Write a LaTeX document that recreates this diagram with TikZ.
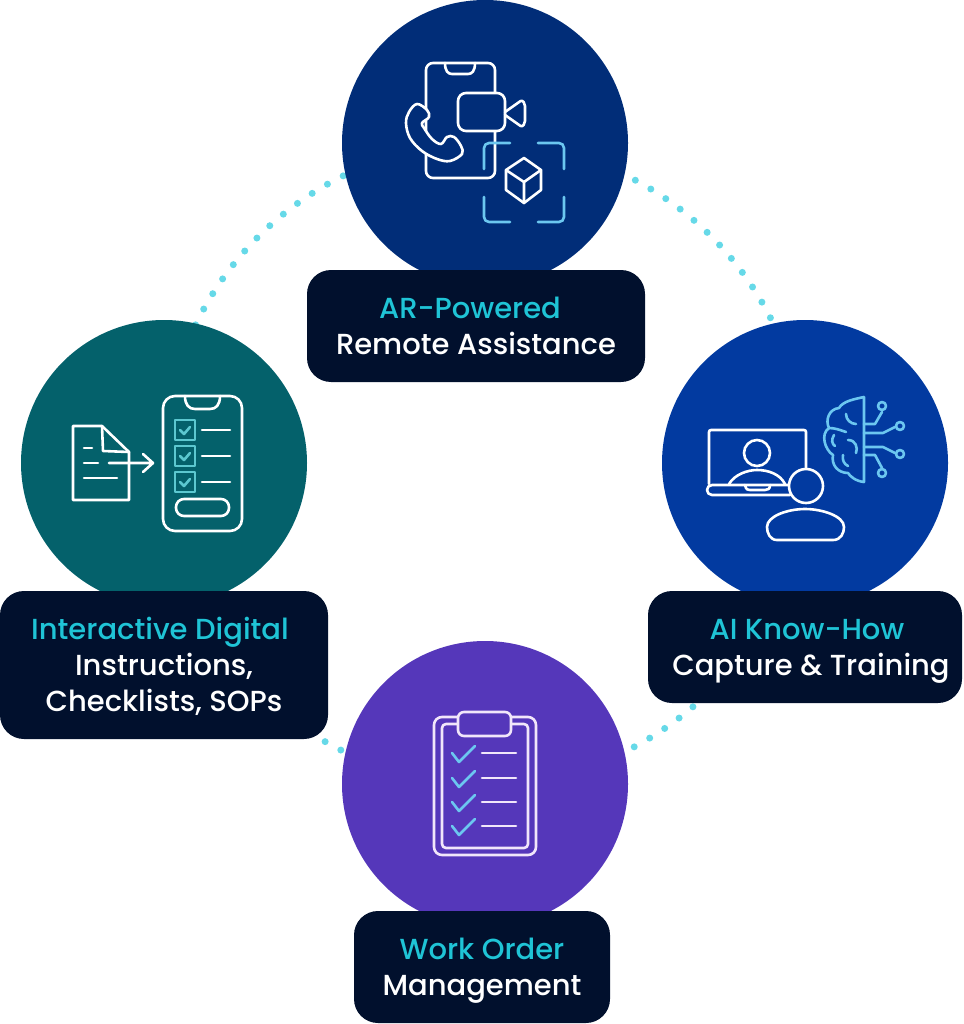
\documentclass[tikz,border=0pt]{standalone}
\usepackage{fontspec}
\setmainfont{Poppins Medium}
\usetikzlibrary{backgrounds}
\definecolor{arblue}{HTML}{012D78}
\definecolor{iditeal}{HTML}{04616B}
\definecolor{knowblue}{HTML}{023AA0}
\definecolor{wopurple}{HTML}{5537BA}
\definecolor{cardnavy}{HTML}{01102D}
\definecolor{headcyan}{HTML}{1FC4D6}
\definecolor{dotcyan}{HTML}{66D9E8}
\definecolor{iconsky}{HTML}{6CC7F0}
\definecolor{iconteal}{HTML}{5CC8D0}
\definecolor{iconlilac}{HTML}{F1E6FA}
\newcommand{\cardtext}[2]{\rule{0pt}{30pt}\textcolor{headcyan}{#1}\\#2\rule[-10pt]{0pt}{10pt}}

\begin{document}
\begin{tikzpicture}
  [x=1pt,y=-1pt,
   disc/.style={circle,
                minimum size=286pt,
                inner sep=0pt},
   card/.style={fill=cardnavy,
                rounded corners=24pt,
                minimum height=112pt,
                align=center,
                text=white,
                font=\fontsize{29}{36}\selectfont},
   dotlink/.style={dotcyan,
                   line width=7pt,
                   line cap=round,
                   dash pattern=on 0pt off 17.8pt,
                   dash phase=#1},
   icon/.style={white,
                line width=2.6pt,
                line join=round,
                line cap=round},
   accent/.style={icon,iconsky}]
  \useasboundingbox (0,0) rectangle (963,1024);

  \node[disc,fill=arblue] (ar) at (485,143) {};
  \node[disc,fill=iditeal] (idi) at (164,463) {};
  \node[disc,fill=knowblue] (know) at (805,463) {};
  \node[disc,fill=wopurple] (wo) at (485,784) {};

  \begin{scope}[on background layer]
    \draw[dotlink=13.3pt] (ar.center) to[bend right=45] (idi.center);
    \draw[dotlink=1pt] (idi.center) to[bend right=45] (wo.center);
    \draw[dotlink=4.9pt] (wo.center) to[bend right=45] (know.center);
    \draw[dotlink=9.5pt] (know.center) to[bend right=45] (ar.center);
  \end{scope}

  \node[card,minimum width=338pt] (arcard) at (476,326)
    {\cardtext{AR-Powered\hspace*{12pt}}{Remote Assistance}};
  \node[card,minimum width=328pt,minimum height=148pt] (idicard) at (164,665)
    {\cardtext{Interactive Digital\hspace*{8pt}}{Instructions,\\Checklists, SOPs}};
  \node[card,minimum width=314pt] (knowcard) at (805,647)
    {\cardtext{\hspace*{4pt}AI Know-How}{\hspace*{12pt}Capture \& Training}};
  \node[card,minimum width=256pt] (wocard) at (482,967)
    {\cardtext{Work Order}{Management}};

  % phone, handset, camera
  \draw[icon,rounded corners=7] (426,63) rectangle (495,178);
  \draw[icon] (445,63) .. controls (445,71) and (448,74) .. (452,74)
    -- (468,74) .. controls (472,74) and (475,71) .. (475,63);
  \draw[icon,fill=arblue] plot[smooth cycle,tension=0.6] coordinates
    {(417,104) (409,112) (406,123) (410,138) (422,151) (437,159) (450,161)
     (462,154) (461,146) (454,137) (447,137) (441,144) (432,139) (424,128)
     (422,123) (429,117) (427,110)};
  \draw[icon,fill=arblue,rounded corners=8] (458,93) rectangle (505,131);
  \draw[icon,rounded corners=2] (505,112) -- (522,100) -- (525,104) -- (525,123)
    -- (522,127) -- (505,115);
  \draw[accent,rounded corners=5] (484,169) -- (484,143) -- (510,143);
  \draw[accent,rounded corners=5] (538,143) -- (564,143) -- (564,169);
  \draw[accent,rounded corners=5] (484,197) -- (484,222) -- (510,222);
  \draw[accent,rounded corners=5] (538,222) -- (564,222) -- (564,197);
  \draw[icon] (524,158) -- (541,170) -- (541,190) -- (524,203) -- (506,190)
    -- (506,170) -- cycle;
  \draw[icon] (506,170) -- (524,182) -- (541,170) (524,182) -- (524,203);

  % document and checklist
  \draw[icon] (73,426) -- (102,426) -- (129,452) -- (129,500) -- (73,500) -- cycle;
  \draw[icon] (102,426) -- (103,451) -- (129,452);
  \draw[icon] (84,448) -- (92,448) (84,463) -- (98,463) (84,478) -- (117,478);
  \draw[icon] (109,463) -- (153,463) (143,454) -- (153,463) -- (143,472);
  \draw[icon,rounded corners=12] (163,396) rectangle (242,531);
  \draw[icon] (185,396) .. controls (185,405) and (189,409) .. (195,409)
    -- (210,409) .. controls (216,409) and (220,405) .. (220,396);
  \foreach \cy in {420,446,472} {
    \draw[icon,iconteal] (175,\cy) rectangle (195,\cy+20);
    \draw[icon,iconteal] (180,\cy+10) -- (184,\cy+14) -- (190,\cy+7);
    \draw[icon] (202,\cy+10) -- (230,\cy+10);
  }
  \draw[icon,rounded corners=8] (176,499) rectangle (229,516);

  % laptop, person, brain
  \draw[icon,rounded corners=2] (709,484) -- (709,430) -- (806,430) -- (806,470);
  \draw[icon,rounded corners=5] (790,485) -- (707,485) -- (707,495) -- (790,495);
  \draw[icon] (745,485) .. controls (746,490) and (748,490) .. (750,490)
    -- (765,490) .. controls (768,490) and (770,489) .. (770,485);
  \draw[icon] (757,453) circle (13);
  \draw[icon] (729,484) .. controls (735,474) and (748,470) .. (757,470)
    .. controls (768,470) and (780,474) .. (785,484);
  \draw[icon,fill=knowblue] (806,486) circle (17);
  \draw[icon] (777,540) -- (833,540) .. controls (841,540) and (844,533) .. (844,527)
    .. controls (844,516) and (822,509) .. (805,509)
    .. controls (788,509) and (767,516) .. (767,527)
    .. controls (767,533) and (770,540) .. (777,540);
  \draw[accent] (864,397) -- (864,482)
    .. controls (855,481) and (850,476) .. (848,473)
    .. controls (838,473) and (831,465) .. (833,455)
    .. controls (825,450) and (820,434) .. (829,428)
    .. controls (825,420) and (829,409) .. (839,408)
    .. controls (843,401) and (855,399) .. (864,397);
  \draw[accent] (846,414) .. controls (846,420) and (851,424) .. (856,424);
  \draw[accent] (829,428) .. controls (835,428) and (840,430) .. (846,432);
  \draw[accent] (834,435) .. controls (831,440) and (832,444) .. (835,446);
  \draw[accent] (848,440) .. controls (856,440) and (858,448) .. (856,453);
  \draw[accent] (843,455) .. controls (842,460) and (844,464) .. (848,466);
  \draw[accent] (864,424) -- (875,424) -- (882,412);
  \draw[accent] (864,433) -- (883,433) -- (895,427);
  \draw[accent] (864,447) -- (883,447) -- (895,453);
  \draw[accent] (864,455) -- (875,455) -- (882,468);
  \draw[accent] (882,406) circle (4) (900,426) circle (4)
    (900,454) circle (4) (882,473) circle (4);

  % clipboard
  \draw[icon,iconlilac,rounded corners=8] (434,717) rectangle (536,855);
  \draw[icon,iconlilac,rounded corners=4] (442,724) rectangle (528,848);
  \draw[icon,iconlilac,fill=wopurple,rounded corners=6] (458,712) rectangle (511,736);
  \foreach \cy in {753,778,802,826} {
    \draw[accent] (452,\cy) -- (459,\cy+9) -- (475,\cy-7);
    \draw[icon,iconlilac] (482,\cy) -- (516,\cy);
  }
\end{tikzpicture}
\end{document}
